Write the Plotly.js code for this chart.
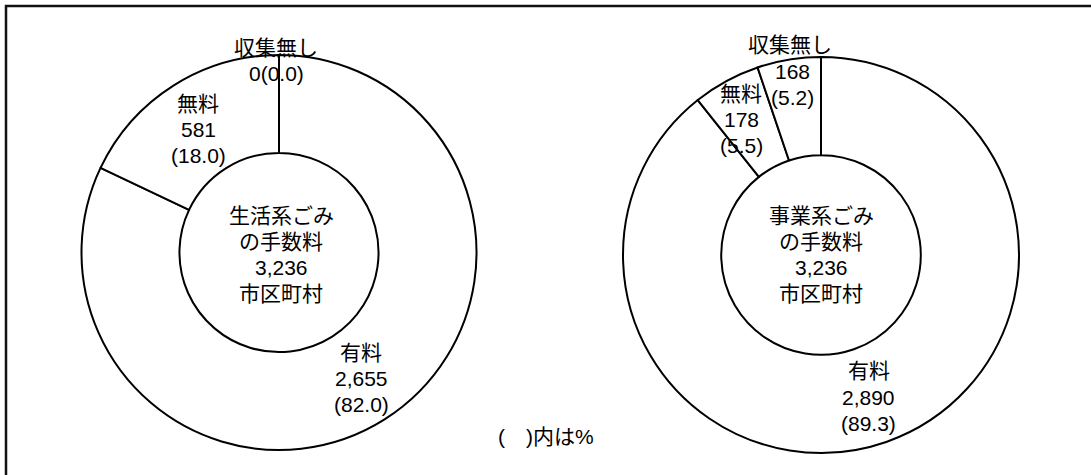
<!DOCTYPE html>
<html>
<head>
<meta charset="utf-8">
<script src="https://cdn.plot.ly/plotly-3.0.1.min.js"></script>
<style>html,body{margin:0;padding:0;background:#fff;}#chart{width:1091px;height:475px;}</style>
</head>
<body>
<div id="chart"></div>
<script>
// ---- data ----
const categories = ['有料', '無料', '収集無し'];
const householdValues = [2655, 581, 0];
const householdPercents = [82.0, 18.0, 0.0];
const businessValues = [2890, 178, 168];
const businessPercents = [89.3, 5.5, 5.2];
const householdTitle = ['生活系ごみ', 'の手数料'];
const businessTitle = ['事業系ごみ', 'の手数料'];
const totalMunicipalities = 3236;
const unitLabel = '市区町村';
const noteText = '(\u2002\u2002)内は%';

const W = 1091, H = 475;
const FONT = "'Liberation Sans', Arial, 'Noto Sans CJK JP', sans-serif";
const fmt = v => v.toLocaleString('en-US');
const pct = p => '(' + p.toFixed(1) + ')';
const px = x => x / W;
const py = y => 1 - y / H;

function pieDomain(cx, cy, r) {
  return { x: [(cx - r) / W, (cx + r) / W], y: [(H - cy - r) / H, (H - cy + r) / H] };
}

const pieStyle = {
  type: 'pie',
  labels: categories,
  sort: false,
  direction: 'clockwise',
  rotation: 0,
  hole: 0.504,
  textinfo: 'none',
  hoverinfo: 'none',
  marker: { colors: ['#ffffff', '#ffffff', '#ffffff'], line: { color: '#000000', width: 2 } },
  showlegend: false
};

const traces = [
  Object.assign({}, pieStyle, { values: householdValues, domain: pieDomain(279, 252.5, 197.5) }),
  Object.assign({}, pieStyle, { values: businessValues, domain: pieDomain(821, 255, 198) })
];

// one annotation per text line so every line sits where it does in the reference
function lines(texts, x, ys) {
  return texts.map((t, i) => ({
    text: t, x: px(x), y: py(ys[i]), xref: 'paper', yref: 'paper',
    xanchor: 'center', yanchor: 'middle', showarrow: false,
    font: { family: FONT, size: 21, color: '#000' }
  }));
}

const annotations = [].concat(
  // household
  lines(householdTitle.concat([fmt(totalMunicipalities), unitLabel]), 281, [215, 241, 267, 293]),
  lines([categories[0], fmt(householdValues[0]), pct(householdPercents[0])], 361, [352, 378, 404]),
  lines([categories[1], fmt(householdValues[1]), pct(householdPercents[1])], 198, [103, 129, 155]),
  lines([categories[2], fmt(householdValues[2]) + pct(householdPercents[2])], 276, [47, 74]),
  // business
  lines(businessTitle.concat([fmt(totalMunicipalities), unitLabel]), 821, [215, 241, 267, 293]),
  lines([categories[0], fmt(businessValues[0]), pct(businessPercents[0])], 869, [370, 397, 423]),
  lines([categories[1], fmt(businessValues[1]), pct(businessPercents[1])], 741, [93, 119, 145]),
  lines([categories[2]], 790, [45]),
  lines([fmt(businessValues[2]), pct(businessPercents[2])], 792, [72, 97]),
  // note
  lines([noteText], 546, [436])
);

const layout = {
  width: W, height: H,
  margin: { l: 0, r: 0, t: 0, b: 0 },
  paper_bgcolor: '#ffffff',
  plot_bgcolor: '#ffffff',
  showlegend: false,
  annotations: annotations,
  shapes: [{
    type: 'rect', xref: 'paper', yref: 'paper',
    x0: px(6), x1: 1.05, y0: -0.05, y1: py(6),
    line: { color: '#111111', width: 2.5 }, fillcolor: 'rgba(0,0,0,0)', layer: 'below'
  }]
};

Plotly.newPlot('chart', traces, layout, { staticPlot: true, displayModeBar: false });
</script>
</body>
</html>
